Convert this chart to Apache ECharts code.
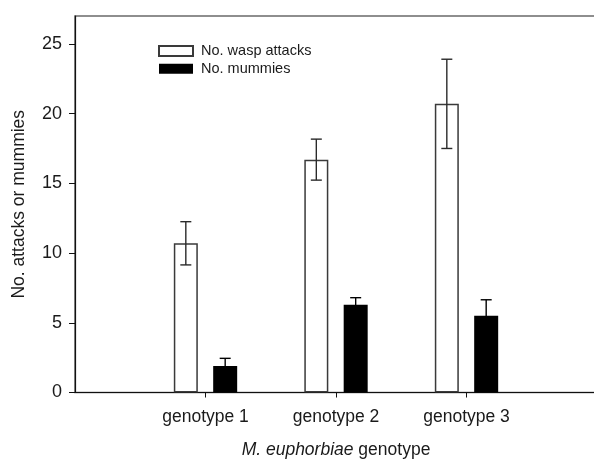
<!DOCTYPE html>
<html>
<head>
<meta charset="utf-8">
<script src="https://cdn.jsdelivr.net/npm/echarts@6/dist/echarts.min.js"></script>
<style>
html,body{margin:0;padding:0;background:#fff;}
#chart{width:594px;height:459px;}
</style>
</head>
<body>
<div id="chart"></div>
<script>
const categories = ['genotype 1', 'genotype 2', 'genotype 3'];
const attacks = [10.7, 16.7, 20.7];
const attacksErr = [1.55, 1.47, 3.2];
const mummies = [1.9, 6.3, 5.5];
const mummiesErr = [0.55, 0.5, 1.15];
const yTicks = [0, 5, 10, 15, 20, 25];

const FONT = 'Liberation Sans, Arial, sans-serif';
const BAR_W = 24;
const GAP_RATIO = 0.64;
const offset = (BAR_W + BAR_W * GAP_RATIO) / 2;

const axisCats = [''].concat(categories, ['']);
const pad = arr => ['-'].concat(arr, ['-']);

function errData(vals, errs) {
  return vals.map((v, i) => [i + 1, v - errs[i], v + errs[i]]);
}
function errRenderer(sign, color) {
  return function (params, api) {
    const c = api.value(0);
    const x = api.coord([c, 0])[0] + sign * offset;
    const yLo = api.coord([c, api.value(1)])[1];
    const yHi = api.coord([c, api.value(2)])[1];
    const cap = 5.5;
    const style = { stroke: color, lineWidth: 1.4 };
    return {
      type: 'group',
      children: [
        { type: 'line', shape: { x1: x, y1: yLo, x2: x, y2: yHi }, style },
        { type: 'line', shape: { x1: x - cap, y1: yHi, x2: x + cap, y2: yHi }, style },
        { type: 'line', shape: { x1: x - cap, y1: yLo, x2: x + cap, y2: yLo }, style }
      ]
    };
  };
}

const chart = echarts.init(document.getElementById('chart'), null, { renderer: 'canvas' });
chart.setOption({
  animation: false,
  backgroundColor: '#fff',
  textStyle: { fontFamily: FONT },
  grid: {
    left: 75, right: -3, top: 16, bottom: 66.5,
    containLabel: false,
    outerBoundsMode: 'none',
    show: true, borderColor: '#6a6a6a', borderWidth: 1.6, backgroundColor: 'transparent'
  },
  legend: {
    orient: 'vertical',
    left: 158, top: 43.5,
    padding: 0,
    itemWidth: 34, itemHeight: 10, itemGap: 2.7,
    icon: 'rect',
    textStyle: { fontFamily: FONT, fontSize: 14.5, lineHeight: 14, color: '#1a1a1a', padding: [0, 0, 0, 3] },
    data: ['No. wasp attacks', 'No. mummies']
  },
  xAxis: {
    type: 'category',
    data: axisCats,
    boundaryGap: false,
    axisLine: { lineStyle: { color: '#111', width: 1.2 } },
    axisTick: { length: 5, interval: (i) => i >= 1 && i <= categories.length, lineStyle: { color: '#111' } },
    axisLabel: { interval: 0, fontFamily: FONT, fontSize: 17.5, color: '#1a1a1a', margin: 16 },
    name: '{i|M. euphorbiae} {n|genotype}',
    nameLocation: 'middle',
    nameGap: 49,
    nameTextStyle: {
      fontFamily: FONT, fontSize: 17.5, color: '#1a1a1a',
      rich: {
        i: { fontFamily: FONT, fontSize: 17.5, fontStyle: 'italic', color: '#1a1a1a' },
        n: { fontFamily: FONT, fontSize: 17.5, color: '#1a1a1a' }
      }
    },
    splitLine: { show: false }
  },
  yAxis: {
    type: 'value',
    min: 0, max: 27, interval: 5,
    axisLine: { show: true, lineStyle: { color: '#111', width: 1.2 } },
    axisTick: { show: true, length: 6, customValues: yTicks, lineStyle: { color: '#111' } },
    axisLabel: { fontFamily: FONT, fontSize: 18, color: '#1a1a1a', margin: 13, customValues: yTicks },
    splitLine: { show: false },
    name: 'No. attacks or mummies',
    nameLocation: 'middle',
    nameGap: 47,
    nameTextStyle: { fontFamily: FONT, fontSize: 17.5, color: '#1a1a1a' }
  },
  series: [
    {
      name: 'No. wasp attacks',
      type: 'bar',
      data: pad(attacks),
      barWidth: BAR_W,
      barGap: (GAP_RATIO * 100) + '%',
      itemStyle: { color: '#ffffff', borderColor: '#3a3a3a', borderWidth: 1.5 },
      z: 2
    },
    {
      name: 'No. mummies',
      type: 'bar',
      data: pad(mummies),
      barWidth: BAR_W,
      barGap: (GAP_RATIO * 100) + '%',
      itemStyle: { color: '#000000' },
      z: 2
    },
    {
      type: 'custom',
      data: errData(attacks, attacksErr),
      renderItem: errRenderer(-1, '#2a2a2a'),
      z: 5, silent: true
    },
    {
      type: 'custom',
      data: errData(mummies, mummiesErr),
      renderItem: errRenderer(1, '#000'),
      z: 5, silent: true
    }
  ]
});
</script>
</body>
</html>
